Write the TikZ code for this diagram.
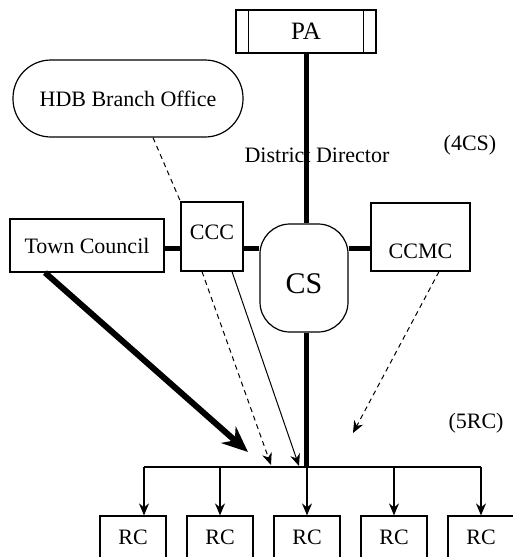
\documentclass[tikz,border=0pt]{standalone}
\usepackage{fontspec}
\setmainfont{Liberation Serif}
\usetikzlibrary{arrows.meta}
\begin{document}
\begin{tikzpicture}[x=1pt,y=-1pt,
    box/.style={draw,line width=1.2pt,inner sep=0pt,font=\fontsize{22}{26}\selectfont},
    rcbox/.style={box,minimum width=66pt,minimum height=60pt,text depth=18pt},
    bold link/.style={line width=5pt},
    dashlink/.style={line width=1pt,dash pattern=on 5pt off 4pt},
    tip/.style={-{Stealth[length=12pt,width=10pt]}}]
  \useasboundingbox (0,0) rectangle (513,557);
  \clip (0,0) rectangle (513,557);
  % top and left
  \node[box,minimum width=140pt,minimum height=43pt,font=\fontsize{25}{28}\selectfont] (pa) at (306,31.5) {PA};
  \draw[line width=1.2pt] ([xshift=13pt]pa.north west) -- ([xshift=13pt]pa.south west);
  \draw[line width=1.2pt] ([xshift=-13pt]pa.north east) -- ([xshift=-13pt]pa.south east);
  \node[box,minimum width=230pt,minimum height=77pt,rounded corners=38pt] (hdb) at (128,98.5) {HDB Branch Office};
  \node[font=\fontsize{22}{26}\selectfont,inner sep=0pt] (dd) at (317,155) {District Director};
  \node[font=\fontsize{22}{26}\selectfont,inner sep=0pt] (cs4) at (470,145) {(4CS)};
  \node[font=\fontsize{22}{26}\selectfont,inner sep=0pt] (rc5) at (476,423) {(5RC)};
  % middle row
  \node[box,minimum width=154pt,minimum height=53pt] (tc) at (87,245.5) {Town Council};
  \node[box,minimum width=62pt,minimum height=69pt,text depth=9pt] (ccc) at (212,236.5) {CCC};
  \node[box,minimum width=88pt,minimum height=108pt,rounded corners=30pt,
        font=\fontsize{30}{34}\selectfont,text height=30pt,text depth=0pt] (cs) at (304,278) {CS};
  \node[box,minimum width=99pt,minimum height=68pt,text height=43pt,text depth=0pt] (ccmc) at (420.5,237) {CCMC};
  % RC row
  \foreach \n/\x in {1/133,2/220,3/307,4/394,5/481}
    \node[rcbox] (rc\n) at (\x,546) {RC};
  \coordinate (link) at (0,248);
  \coordinate (bus) at (307,467);
  \coordinate (tcend) at (248,452);
  \coordinate (cccend) at (271,465);
  \coordinate (thinend) at (299,466);
  \coordinate (ccmcend) at (353,433);
  % links
  \draw[bold link] (pa.south) -- (pa.south |- cs.north);
  \draw[bold link] (pa.south |- cs.south) -- (pa.south |- bus);
  \draw[bold link] (tc.east |- link) -- (ccc.west |- link);
  \draw[bold link] (ccc.east |- link) -- (cs.west |- link);
  \draw[bold link] (cs.east |- link) -- (ccmc.west |- link);
  \draw[dashlink] ([xshift=25pt]hdb.south) -- (ccc.north west);
  \draw[line width=6pt,-{Stealth[length=26pt,width=22pt]}] ([xshift=-42pt]tc.south) -- (tcend);
  \draw[dashlink,tip] ([xshift=-10pt]ccc.south) -- (cccend);
  \draw[line width=1pt,tip] ([xshift=20pt]ccc.south) -- (thinend);
  \draw[dashlink,tip] ([xshift=18.5pt]ccmc.south) -- (ccmcend);
  % bus to RC
  \draw[line width=1.3pt] ([xshift=11pt]rc1.north |- bus) -- (rc5.north |- bus);
  \draw[line width=1.3pt,tip] ([xshift=11pt]rc1.north |- bus) -- ([xshift=11pt]rc1.north);
  \foreach \n in {2,...,5}
    \draw[line width=1.3pt,tip] (rc\n.north |- bus) -- (rc\n.north);
\end{tikzpicture}
\end{document}
